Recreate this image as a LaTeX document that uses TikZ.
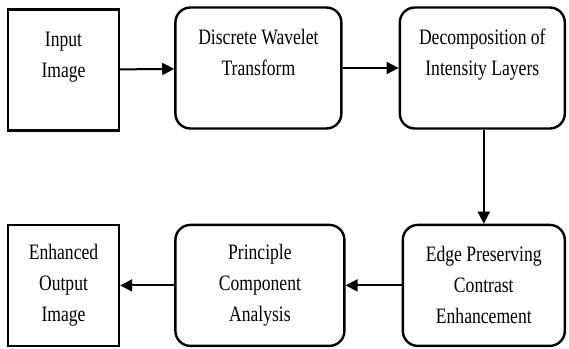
\documentclass[tikz,border=0pt]{standalone}
\usepackage{fontspec}
\setmainfont{Liberation Serif}[FakeStretch=0.8]
\usetikzlibrary{positioning, arrows.meta}
\tikzstyle{block} = [rectangle,
line width=2.4pt,
draw=black,
fill=white,
align=center,
font=\fontsize{22}{31}\selectfont,
minimum height=121pt]
\tikzstyle{roundblock} = [block,
rounded corners=15pt]
\tikzstyle{arrow} = [line width=2pt,-{Triangle[length=12pt,width=12pt]}]

\begin{document}
\begin{tikzpicture}[x=1pt, y=1pt]
    \useasboundingbox (0,0) rectangle (569,-348);
    \node (input) [block, minimum width=111pt] at (63.5,-70) {Input\\Image\\\phantom{I}};
    \node (dwt) [roundblock, minimum width=166pt, right=54pt of input, yshift=2pt] {Discrete Wavelet\\Transform\\\phantom{I}};
    \node (decomp) [roundblock, minimum width=165pt, right=56pt of dwt] {Decomposition of\\Intensity Layers\\\phantom{I}};

    \node (edge) [roundblock, minimum width=162pt, below=94pt of decomp, xshift=1.5pt] {Edge Preserving\\Contrast\\Enhancement};
    \node (pca) [roundblock, minimum width=169pt, left=56pt of edge] {Principle\\Component\\Analysis};
    \node (output) [block, minimum width=111pt, left=54pt of pca] {Enhanced\\Output\\Image};

    \draw [arrow] (input) -- (dwt);
    \draw [arrow] (dwt) -- (decomp);
    \draw [arrow] (decomp.south -| edge.north) -- (edge);
    \draw [arrow] (edge) -- (pca);
    \draw [arrow] (pca) -- (output);
\end{tikzpicture}
\end{document}
